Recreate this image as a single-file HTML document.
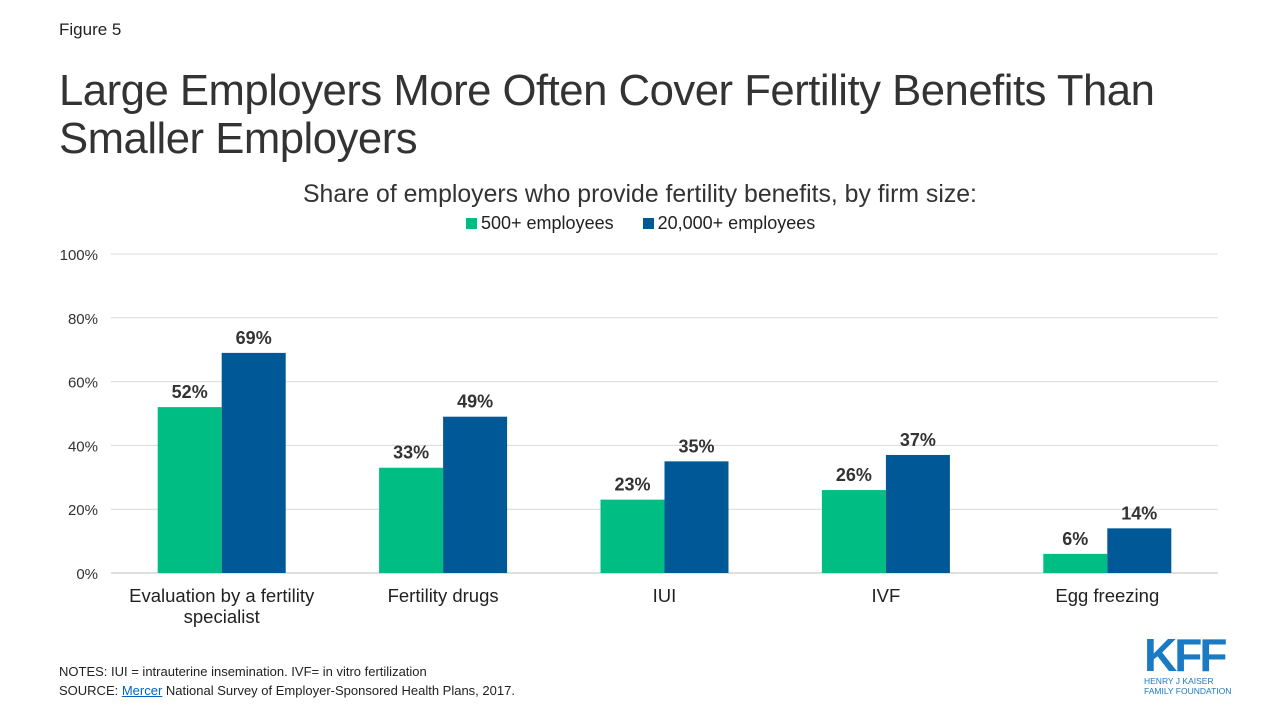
<!DOCTYPE html>
<html><head><meta charset="utf-8"><style>
body{margin:0;width:1280px;height:720px;background:#fff;font-family:"Liberation Sans",Arial,sans-serif;position:relative;overflow:hidden;color:#333}
.a{position:absolute;white-space:nowrap}
</style></head><body>
<div class="a" style="left:59px;top:20px;font-size:17px;color:#222">Figure 5</div>
<div class="a" style="left:59px;top:67px;font-size:43.7px;line-height:48px;color:#333;letter-spacing:-0.5px">Large Employers More Often Cover Fertility Benefits Than<br>Smaller Employers</div>
<div class="a" style="left:303px;top:181px;font-size:24.8px;color:#333">Share of employers who provide fertility benefits, by firm size:</div>
<div class="a" style="left:466px;top:213px;font-size:18px;color:#222">
<span><span style="display:inline-block;width:11px;height:11px;background:#00bd83;margin-right:4px"></span>500+ employees</span>
<span style="margin-left:24px"><span style="display:inline-block;width:11px;height:11px;background:#005996;margin-right:4px"></span>20,000+ employees</span>
</div>
<svg id="chart" width="1280" height="720" style="position:absolute;left:0;top:0"></svg>
<div class="a" style="left:59px;top:664px;font-size:13px;color:#222">NOTES: IUI = intrauterine insemination. IVF= in vitro fertilization</div>
<div class="a" style="left:59px;top:683px;font-size:13px;color:#222">SOURCE: <span style="color:#0563c1;text-decoration:underline">Mercer</span> National Survey of Employer-Sponsored Health Plans, 2017.</div>
<div class="a" style="left:1144px;top:634px;color:#1a7ac4">
<div style="font-size:46px;font-weight:bold;line-height:42px;letter-spacing:-3px">KFF</div>
<div style="font-size:8.5px;line-height:10px">HENRY J KAISER<br>FAMILY FOUNDATION</div></div>
<script>
const categories=["Evaluation by a fertility\nspecialist","Fertility drugs","IUI","IVF","Egg freezing"];
const small=[52,33,23,26,6];
const large=[69,49,35,37,14];
const ticks=[0,20,40,60,80,100];
const svg=document.getElementById('chart');const NS='http://www.w3.org/2000/svg';
const x0=111,x1=1218,y0=573,y100=254;
const y=v=>y0-(y0-y100)*v/100;
const gw=(x1-x0)/categories.length,bw=64;
function mk(t,at){const e=document.createElementNS(NS,t);for(const k in at)e.setAttribute(k,at[k]);svg.appendChild(e);return e;}
ticks.forEach(t=>{const l=mk('line',{x1:x0,x2:x1,y1:y(t),y2:y(t),stroke:t?'#d9d9d9':'#bfbfbf','stroke-width':1});


const tx=mk('text',{x:98,y:y(t)+6,'text-anchor':'end','font-size':15,fill:'#333'});tx.textContent=t+'%';

});
categories.forEach((c,i)=>{const cx=x0+gw*(i+0.5);
[[small[i],'#00bd83',cx-bw,'500'],[large[i],'#005996',cx,'20000']].forEach(([v,col,bx,s])=>{
const r=mk('rect',{x:bx,y:y(v),width:bw,height:y0-y(v),fill:col});


const t=mk('text',{x:bx+bw/2,y:y(v)-9,'text-anchor':'middle','font-size':18,'font-weight':'bold',fill:'#333'});t.textContent=v+'%';

});
c.split('\n').forEach((ln,j)=>{const t=mk('text',{x:cx,y:602+j*21,'text-anchor':'middle','font-size':18.5,fill:'#222'});t.textContent=ln;

});});
</script>
</body></html>
